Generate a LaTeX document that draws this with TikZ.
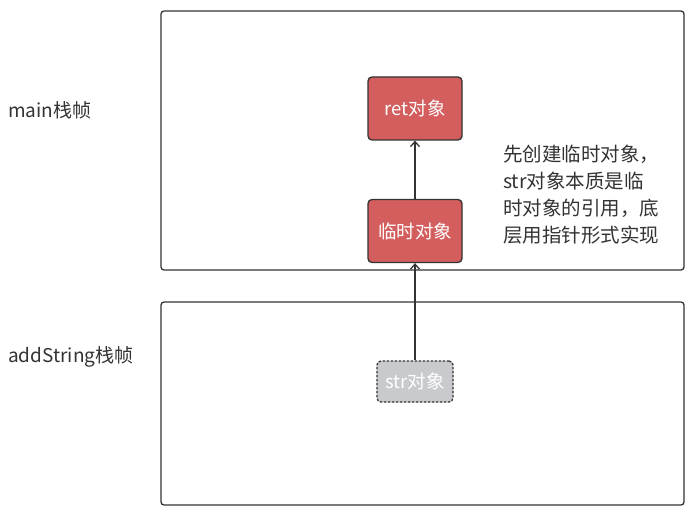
\documentclass[tikz,border=0pt]{standalone}
\usepackage{fontspec}
\setmainfont{Noto Sans CJK SC}
\usetikzlibrary{arrows.meta}
\definecolor{redbox}{RGB}{212,94,94}
\definecolor{graybox}{RGB}{200,202,205}
\definecolor{edge}{RGB}{51,51,51}
\tikzset{
  frame/.style={draw=edge,line width=1.3pt,rounded corners=3pt},
  objbox/.style={draw=edge,line width=1.3pt,rounded corners=4pt,fill=redbox,text=white,minimum width=94pt,minimum height=63pt,font=\fontsize{18.5}{22}\selectfont,inner sep=0pt},
  strbox/.style={draw=edge,line width=1.3pt,dashed,dash pattern=on 2.5pt off 1.5pt,rounded corners=4pt,fill=graybox,text=white,minimum width=76pt,minimum height=41pt,font=\fontsize{18.5}{22}\selectfont,inner sep=0pt},
  lbl/.style={text=edge,font=\fontsize{19}{22}\selectfont,anchor=west,inner sep=0pt},
  note/.style={text=edge,font=\fontsize{19.5}{27}\selectfont,anchor=north west,inner sep=0pt,align=left},
  arr/.style={draw=edge,line width=1.3pt,-{Straight Barb[length=5pt,width=9pt]}}
}
\begin{document}
\begin{tikzpicture}[x=1pt,y=-1pt]
\useasboundingbox (0,0) rectangle (699,516);
\fill[white] (0,0) rectangle (699,516);
\draw[frame] (161,11) rectangle (684,270);
\draw[frame] (161,302) rectangle (684,505);
\node[lbl] (mainlbl) at (8,110) {main栈帧};
\node[lbl] (addlbl) at (8,357) {addString栈帧};
\node[objbox] (ret) at (415,108.5) {ret对象};
\node[objbox] (tmp) at (415,231) {临时对象};
\node[strbox] (str) at (415,381.5) {str对象};
\draw[arr] (str.north) -- (tmp.south);
\draw[arr] (tmp.north) -- (ret.south);
\node[note] (txt) at (503,145) {先创建临时对象，\\str对象本质是临\\时对象的引用，底\\层用指针形式实现};
\end{tikzpicture}
\end{document}
